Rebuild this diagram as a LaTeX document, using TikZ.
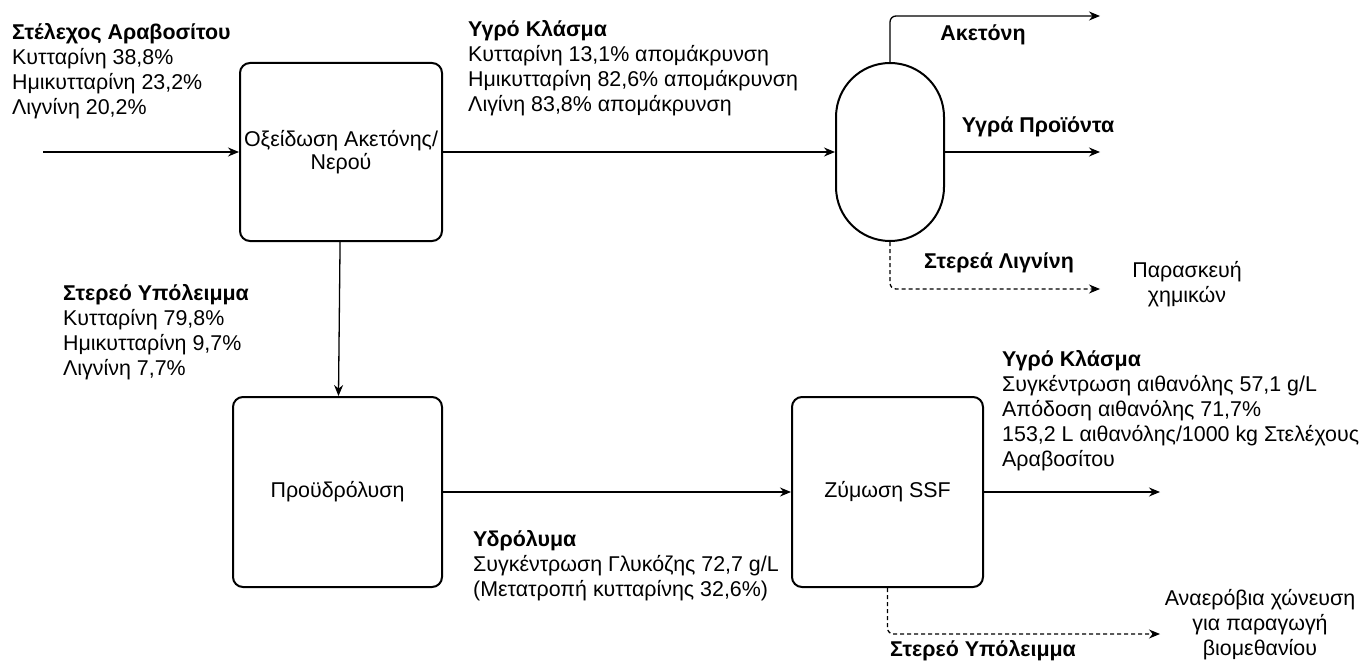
\documentclass[tikz,border=0pt]{standalone}
\usepackage{fontspec}
\setmainfont{Liberation Sans}
\usetikzlibrary{arrows.meta}
\begin{document}
\begin{tikzpicture}[x=1pt, y=-1pt,
        every node/.style = {font=\fontsize{21.4}{25}\selectfont, inner sep=0pt},
        unit/.style = {draw, line width=2pt, rounded corners=10pt},
        info/.style = {align=left, anchor=north west},
        tag/.style = {font=\fontsize{21.4}{25}\selectfont\bfseries},
        flow/.style = {line width=1.3pt, -{Stealth[length=11pt, width=9pt]}},
        waste/.style = {flow, dash pattern=on 4pt off 3pt, rounded corners=6pt},
        ]
        \useasboundingbox (0,0) rectangle (1370,663);
        % process units
        \node[unit, minimum width=202pt, minimum height=178pt, align=center,
            font=\fontsize{21.4}{23}\selectfont] (oxid) at (341,152) {Οξείδωση Ακετόνης/\\Νερού};
        \node[unit, minimum width=209pt, minimum height=190pt] (prehyd) at (337.5,492) {Προϋδρόλυση};
        \node[unit, minimum width=191pt, minimum height=190pt] (ssf) at (887.5,492) {Ζύμωση SSF};
        \node[draw, line width=2pt, rounded corners=54pt, minimum width=108pt,
            minimum height=178pt] (sep) at (890,152) {};
        % free ends
        \coordinate (feed) at (43,152);
        \coordinate (acetone) at (1100,16);
        \coordinate (liquid) at (1100,152);
        \coordinate (lignin) at (1100,289);
        \coordinate (ethanol) at (1160,492);
        \coordinate (residue) at (1160,634);
        % streams
        \draw[flow] (feed) -- (oxid);
        \draw[flow] (oxid) -- (sep);
        \draw[flow] (oxid) -- (prehyd);
        \draw[flow] (prehyd) -- (ssf);
        \draw[flow, rounded corners=6pt] (sep.north) |- (acetone);
        \draw[flow] (sep.east) -- (liquid);
        \draw[waste] (sep.south) |- (lignin);
        \draw[flow] (ssf.east) -- (ethanol);
        \draw[waste] (ssf.south) |- (residue);
        % stream data
        \node[info] (feedinfo) at (12,23) {\textbf{Στέλεχος Αραβοσίτου}\\Κυτταρίνη 38,8\%\\Ημικυτταρίνη 23,2\%\\Λιγνίνη 20,2\%};
        \node[info] (wetinfo) at (468,20) {\textbf{Υγρό Κλάσμα}\\Κυτταρίνη 13,1\% απομάκρυνση\\Ημικυτταρίνη 82,6\% απομάκρυνση\\Λιγίνη 83,8\% απομάκρυνση};
        \node[info] (solidinfo) at (63,284) {\textbf{Στερεό Υπόλειμμα}\\Κυτταρίνη 79,8\%\\Ημικυτταρίνη 9,7\%\\Λιγνίνη 7,7\%};
        \node[info] (hydinfo) at (473,530) {\textbf{Υδρόλυμα}\\Συγκέντρωση Γλυκόζης 72,7 g/L\\(Μετατροπή κυτταρίνης 32,6\%)};
        \node[info] (ethinfo) at (1002,350) {\textbf{Υγρό Κλάσμα}\\Συγκέντρωση αιθανόλης 57,1 g/L\\Απόδοση αιθανόλης 71,7\%\\153,2 L αιθανόλης/1000 kg Στελέχους\\Αραβοσίτου};
        \node[tag] (acetlabel) at (983,35) {Ακετόνη};
        \node[tag] (liqlabel) at (1038,127) {Υγρά Προϊόντα};
        \node[tag] (liglabel) at (999,263) {Στερεά Λιγνίνη};
        \node[tag] (reslabel) at (983,651) {Στερεό Υπόλειμμα};
        \node[align=center] (chem) at (1187,284) {Παρασκευή\\χημικών};
        \node[align=center] (biogas) at (1260,625) {Αναερόβια χώνευση\\για παραγωγή\\βιομεθανίου};
    \end{tikzpicture}
\end{document}
